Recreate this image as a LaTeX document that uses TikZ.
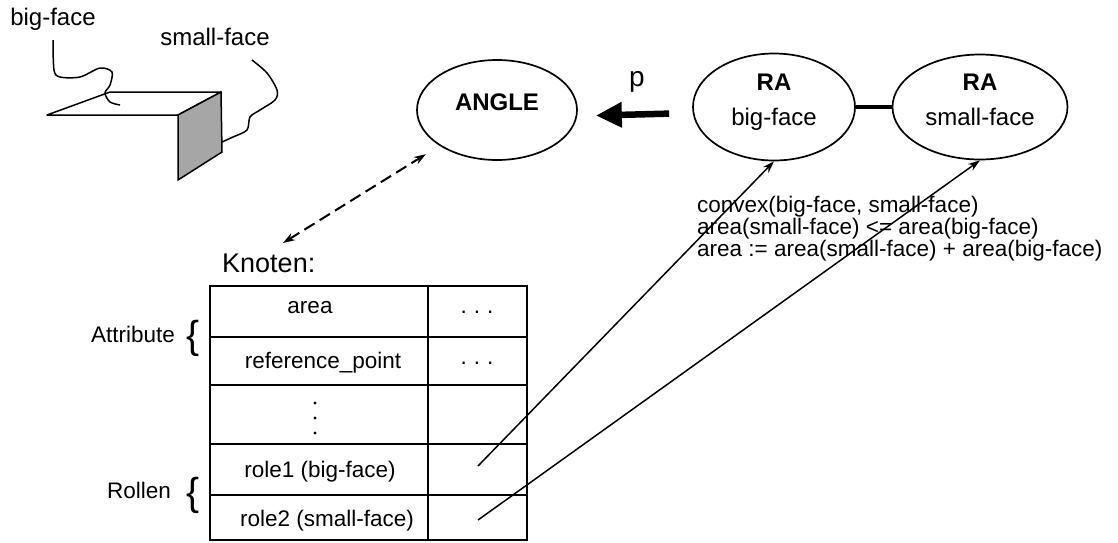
\documentclass[tikz,border=0pt]{standalone}
\usepackage{fontspec}
\setmainfont{Liberation Sans}
\usetikzlibrary{shapes.geometric,arrows.meta,positioning}
\tikzset{
  >={Stealth[length=12pt,width=8pt]},
  txt/.style={font=\fontsize{22.5}{24}\selectfont, inner sep=0pt},
  concept/.style={ellipse, draw, line width=1.7pt, inner sep=0pt,
    font=\fontsize{24}{35}\selectfont, align=center,
    execute at end node={\rule[-15pt]{0pt}{0pt}}},
  cellline/.style={line width=2.4pt},
  wire/.style={line width=1.5pt}
}
\begin{document}
\begin{tikzpicture}[x=1pt,y=-1pt]
  \useasboundingbox (0,0) rectangle (1118,542);

  % sketch of the two faces
  \draw[wire,line join=round] (47,115) -- (110,92) -- (221,92) -- (178,115) -- cycle;
  \filldraw[wire,fill=gray!70] (178,115) -- (221,92) -- (222,152) -- (178,180) -- cycle;
  \node[txt,font=\fontsize{24}{24}\selectfont,anchor=base] (bigtag) at (53,25) {big-face};
  \node[txt,font=\fontsize{24}{24}\selectfont,anchor=base] (smalltag) at (215,45) {small-face};
  \draw[wire] plot[smooth] coordinates {(53,40) (54,70) (60,77) (80,77) (100,68)
    (112,72) (110,85) (105,93) (110,102) (120,105)};
  \draw[wire] plot[smooth] coordinates {(252,60) (267,73) (277,90) (275,100)
    (260,110) (250,117) (247,130) (233,137) (222,142)};

  % concepts
  \node[concept,minimum width=160,minimum height=100] (angle) at (497,110) {\textbf{ANGLE}};
  \node[concept,minimum width=162,minimum height=107] (ra1) at (774,107) {\textbf{RA}\\big-face};
  \node[concept,minimum width=175,minimum height=105] (ra2) at (980,107) {\textbf{RA}\\small-face};
  \draw[line width=4.5pt] (ra1.east) -- (ra2.west);
  \draw[line width=6.5pt,-{Triangle[length=26pt,width=24pt]},shorten <=23pt,shorten >=18pt]
    ([yshift=-6pt]ra1.west) -- ([yshift=-6pt]angle.east);
  \node[font=\fontsize{28}{28}\selectfont,inner sep=0pt,anchor=base] (plabel) at (637,86) {p};

  % constraints
  \node[txt,font=\fontsize{22.5}{20}\selectfont,align=left,anchor=north west] (conds) at (697,196)
    {convex(big-face, small-face)\\area(small-face) <= area(big-face)\\area := area(small-face) + area(big-face)};

  % node table
  \node[txt,font=\fontsize{27}{27}\selectfont,anchor=base west] (knoten) at (222,272) {Knoten:};
  \draw[cellline] (210,286) rectangle (527,540);
  \draw[cellline] (428,286) -- (428,540);
  \foreach \y in {337,385,444,495}
    \draw[cellline] (210,\y) -- (527,\y);
  \node[txt,anchor=base] (area) at (310,313) {area};
  \node[txt,anchor=base] (refpt) at (323,368) {reference\_point};
  \node[txt,anchor=base] (role1) at (320,477) {role1 (big-face)};
  \node[txt,anchor=base] (role2) at (327,526) {role2 (small-face)};
  \node[txt,anchor=base] (val1) at (477,313) {.\hspace{7pt}.\hspace{7pt}.};
  \node[txt,anchor=base] (val2) at (477,364) {.\hspace{7pt}.\hspace{7pt}.};
  \foreach \y in {403,418,433}
    \fill (315,\y) circle (1.6);

  \node[txt,anchor=base east] (attr) at (175,342) {Attribute};
  \node[txt,anchor=base east] (rollen) at (171,498) {Rollen};
  \node[font=\fontsize{39}{39}\selectfont,inner sep=0pt] (attrbrace) at (193,338) {\{};
  \node[font=\fontsize{39}{39}\selectfont,inner sep=0pt] (rollbrace) at (193,495) {\{};

  % links
  \coordinate (kn) at (283,243);
  \draw[line width=2pt,dashed,dash pattern=on 12pt off 6pt,<->,shorten >=16pt] (kn) -- (angle);
  \coordinate (ref1) at (478,466);
  \coordinate (ref2) at (478,520);
  \draw[wire,->] (ref1) -- (ra1.south);
  \draw[wire,->] (ref2) -- (ra2.south);
\end{tikzpicture}
\end{document}
